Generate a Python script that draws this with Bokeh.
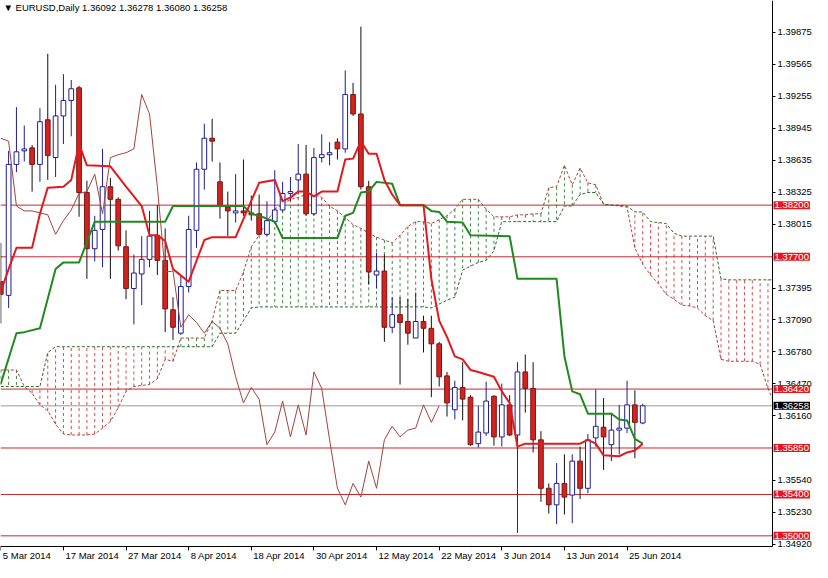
import pandas as pd
from bokeh.plotting import figure
from bokeh.models import FixedTicker, Label, Range1d, PrintfTickFormatter, ColumnDataSource
from bokeh.embed import file_html
from bokeh.resources import INLINE

# ---------------- data ----------------
first_day = "2014-03-05"
x_tick_labels = ["5 Mar 2014", "17 Mar 2014", "27 Mar 2014", "8 Apr 2014", "18 Apr 2014",
                 "30 Apr 2014", "12 May 2014", "22 May 2014", "3 Jun 2014", "13 Jun 2014", "25 Jun 2014"]

opens = [1.37459, 1.37327, 1.38594, 1.38725, 1.38754, 1.38594, 1.39026, 1.38660, 1.39063, 1.39213,
         1.39335, 1.38322, 1.37778, 1.37965, 1.38378, 1.38256, 1.37797, 1.37393, 1.37534, 1.37675,
         1.37909, 1.37665, 1.37187, 1.36961, 1.37412, 1.37956, 1.38547, 1.38847, 1.38425, 1.38181,
         1.38125, 1.38144, 1.38125, 1.38116, 1.37918, 1.38040, 1.38153, 1.38313, 1.38444, 1.38500,
         1.38116, 1.38660, 1.38688, 1.38810, 1.38744, 1.39270, 1.39082, 1.38378, 1.37524, 1.37562,
         1.37018, 1.37140, 1.37074, 1.36914, 1.37074, 1.37008, 1.36858, 1.36548, 1.36220, 1.36436,
         1.36342, 1.35892, 1.35995, 1.36351, 1.35957, 1.36267, 1.35976, 1.36586, 1.36426, 1.35929,
         1.35460, 1.35300, 1.35507, 1.35394, 1.35723, 1.35460, 1.35948, 1.36051, 1.35882, 1.36023,
         1.36042, 1.36267, 1.36092]
highs = [1.37834, 1.38725, 1.39148, 1.38970, 1.38782, 1.39138, 1.39664, 1.39364, 1.39467, 1.39411,
         1.39354, 1.38435, 1.38097, 1.38744, 1.38463, 1.38275, 1.37956, 1.37721, 1.37900, 1.38144,
         1.38200, 1.37975, 1.37309, 1.37524, 1.38097, 1.38613, 1.38988, 1.39035, 1.38613, 1.38331,
         1.38500, 1.38641, 1.38294, 1.38303, 1.38238, 1.38538, 1.38425, 1.38472, 1.38791, 1.38782,
         1.38754, 1.38885, 1.38810, 1.38847, 1.39504, 1.39382, 1.39927, 1.38435, 1.37740, 1.37721,
         1.37309, 1.37309, 1.37290, 1.37355, 1.37130, 1.37130, 1.36877, 1.36586, 1.36502, 1.36680,
         1.36361, 1.36258, 1.36492, 1.36361, 1.36473, 1.36361, 1.36680, 1.36755, 1.36680, 1.36013,
         1.35507, 1.35704, 1.35788, 1.35788, 1.35863, 1.35985, 1.36417, 1.36333, 1.36192, 1.36267,
         1.36502, 1.36408, 1.36278]
lows = [1.37055, 1.37205, 1.38519, 1.38622, 1.38331, 1.38425, 1.38444, 1.38472, 1.38791, 1.38866,
        1.38087, 1.37487, 1.37656, 1.37599, 1.37487, 1.37759, 1.37290, 1.37046, 1.37233, 1.37599,
        1.37524, 1.36971, 1.36896, 1.36943, 1.37355, 1.37787, 1.38350, 1.38622, 1.38069, 1.37900,
        1.38031, 1.38097, 1.38050, 1.37909, 1.37900, 1.38022, 1.38134, 1.38238, 1.38303, 1.38097,
        1.38097, 1.38613, 1.38585, 1.38641, 1.38707, 1.39063, 1.38350, 1.37431, 1.37393, 1.36877,
        1.36961, 1.36464, 1.36849, 1.36914, 1.36774, 1.36342, 1.36445, 1.36154, 1.36126, 1.36117,
        1.35873, 1.35854, 1.35967, 1.35873, 1.35863, 1.35967, 1.35028, 1.36192, 1.35807, 1.35329,
        1.35216, 1.35113, 1.35207, 1.35122, 1.35357, 1.35413, 1.35863, 1.35638, 1.35723, 1.35788,
        1.35995, 1.35751, 1.36080]
closes = [1.37337, 1.38594, 1.38716, 1.38744, 1.38594, 1.39007, 1.38679, 1.39063, 1.39213, 1.39326,
          1.38322, 1.37778, 1.37956, 1.38378, 1.38256, 1.37806, 1.37393, 1.37543, 1.37675, 1.37900,
          1.37665, 1.37196, 1.37018, 1.37412, 1.37965, 1.38547, 1.38847, 1.38819, 1.38191, 1.38144,
          1.38144, 1.38125, 1.38106, 1.37918, 1.38050, 1.38153, 1.38313, 1.38331, 1.38500, 1.38116,
          1.38660, 1.38688, 1.38707, 1.38744, 1.39270, 1.39082, 1.38378, 1.37553, 1.37562, 1.37018,
          1.37140, 1.37065, 1.36961, 1.37074, 1.37008, 1.36858, 1.36539, 1.36286, 1.36436, 1.36323,
          1.35882, 1.36004, 1.36304, 1.35957, 1.36267, 1.35976, 1.36586, 1.36426, 1.35929, 1.35460,
          1.35300, 1.35507, 1.35375, 1.35723, 1.35460, 1.35929, 1.36060, 1.35957, 1.36023, 1.36042,
          1.36267, 1.36098, 1.36258]

# Tenkan-sen (bar index, value) vertices
tenkan_bar = [0, 1, 2, 4, 5, 6, 8, 9, 10, 11, 14, 16, 18, 19, 20, 21, 22, 24, 26, 27, 30, 33, 35, 36, 37,
              38, 39, 40, 41, 43, 44, 45, 46, 47, 48, 49, 50, 51, 54, 55, 56, 57, 58, 59, 60, 61, 63,
              64, 65, 66, 67, 74, 75, 76, 77, 79, 80, 81, 82]
tenkan_val = [1.37365, 1.37581, 1.37787, 1.37787, 1.38116, 1.38369, 1.38378, 1.38444, 1.38791, 1.38585,
              1.38575, 1.38378, 1.38191, 1.37909, 1.37909, 1.37853, 1.37581, 1.37459, 1.37862, 1.37890,
              1.37890, 1.38416, 1.38444, 1.38238, 1.38275, 1.38331, 1.38331, 1.38284, 1.38331, 1.38331,
              1.38641, 1.38650, 1.38819, 1.38697, 1.38697, 1.38444, 1.38303, 1.38200, 1.38200, 1.37487,
              1.37083, 1.36924, 1.36736, 1.36708, 1.36605, 1.36586, 1.36539, 1.36398, 1.36286, 1.35863,
              1.35892, 1.35892, 1.35929, 1.35892, 1.35779, 1.35770, 1.35807, 1.35826, 1.35892]

# Kijun-sen (bar index, value) vertices
kijun_bar = [0, 2, 3, 5, 7, 8, 10, 12, 21, 22, 31, 32, 33, 35, 36, 43, 44, 45, 46, 47, 48, 50, 51, 54,
             55, 56, 57, 59, 60, 65, 66, 71, 72, 73, 74, 75, 78, 79, 80, 81, 82]
kijun_val = [1.36473, 1.36961, 1.36971, 1.37008, 1.37581, 1.37646, 1.37646, 1.38040, 1.38040, 1.38191,
             1.38191, 1.38116, 1.38097, 1.38040, 1.37881, 1.37881, 1.38097, 1.38125, 1.38322, 1.38331,
             1.38425, 1.38406, 1.38200, 1.38200, 1.38144, 1.38134, 1.38040, 1.38031, 1.37909, 1.37900,
             1.37487, 1.37487, 1.36736, 1.36398, 1.36370, 1.36182, 1.36182, 1.36126, 1.36117, 1.35938,
             1.35892]

# Senkou span A and B, one value per bar (already shifted forward), bars 0..99
span_a = [1.36605, 1.36605, 1.36605, 1.36445, 1.36380, 1.36267, 1.36211, 1.36079, 1.35985, 1.35976,
          1.35976, 1.35976, 1.35985, 1.36042, 1.36107, 1.36239, 1.36398, 1.36445, 1.36455, 1.36464,
          1.36520, 1.36708, 1.36689, 1.36914, 1.36914, 1.36914, 1.36914, 1.37083, 1.37374, 1.37374,
          1.37374, 1.37553, 1.37797, 1.37909, 1.38040, 1.38162, 1.38209, 1.38256, 1.38275, 1.38303,
          1.38303, 1.38275, 1.38191, 1.38144, 1.38078, 1.38012, 1.37975, 1.37928, 1.37890, 1.37862,
          1.37834, 1.37909, 1.37994, 1.38040, 1.38040, 1.38022, 1.38059, 1.38097, 1.38162, 1.38256,
          1.38256, 1.38256, 1.38162, 1.38087, 1.38087, 1.38087, 1.38106, 1.38106, 1.38116, 1.38116,
          1.38369, 1.38378, 1.38585, 1.38397, 1.38557, 1.38416, 1.38397, 1.38209, 1.38200, 1.38191,
          1.38181, 1.37787, 1.37628, 1.37524, 1.37440, 1.37337, 1.37290, 1.37233, 1.37224, 1.37205,
          1.37130, 1.37083, 1.36708, 1.36689, 1.36689, 1.36689, 1.36689, 1.36661, 1.36426, 1.36258]
span_b = [1.36445, 1.36445, 1.36445, 1.36445, 1.36445, 1.36445, 1.36774, 1.36830, 1.36830, 1.36830,
          1.36830, 1.36830, 1.36830, 1.36830, 1.36830, 1.36830, 1.36830, 1.36830, 1.36830, 1.36830,
          1.36830, 1.36830, 1.36830, 1.36830, 1.36830, 1.36830, 1.36830, 1.36830, 1.36961, 1.36961,
          1.36961, 1.37083, 1.37205, 1.37215, 1.37215, 1.37215, 1.37215, 1.37215, 1.37215, 1.37215,
          1.37215, 1.37215, 1.37215, 1.37215, 1.37215, 1.37215, 1.37215, 1.37215, 1.37215, 1.37215,
          1.37215, 1.37215, 1.37215, 1.37215, 1.37215, 1.37205, 1.37243, 1.37280, 1.37309, 1.37571,
          1.37609, 1.37646, 1.37665, 1.37759, 1.38040, 1.38040, 1.38040, 1.38040, 1.38040, 1.38040,
          1.38040, 1.38040, 1.38191, 1.38191, 1.38303, 1.38322, 1.38322, 1.38209, 1.38200, 1.38200,
          1.38191, 1.38134, 1.38134, 1.38040, 1.38031, 1.38022, 1.37928, 1.37900, 1.37900, 1.37900,
          1.37900, 1.37900, 1.37487, 1.37477, 1.37477, 1.37477, 1.37477, 1.37477, 1.37477, 1.37477]

chikou_shift = 26
level_lines = [1.38200, 1.37700, 1.36420, 1.35850, 1.35400, 1.35000]
last_price = 1.36258
y_ticks = [1.39875, 1.39565, 1.39255, 1.38945, 1.38635, 1.38325, 1.38015, 1.37395, 1.37090,
           1.36780, 1.36470, 1.36160, 1.35540, 1.35230, 1.34920]
header = "\u25BC EURUSD,Daily  1.36092 1.36278 1.36080 1.36258"

# ---------------- layout ----------------
FONT = "Liberation Sans"
W, H = 812, 562
days = pd.bdate_range(first_day, periods=len(closes))
bars = list(range(len(closes)))
tick_pos = [days.get_loc(pd.Timestamp(s)) for s in x_tick_labels]

x_start, x_end = -0.0375, 103.69       # bars across the whole canvas
axis_x = 98.59                          # price scale sits here
y_top, y_bottom = 1.40180, 1.34742      # prices across the whole canvas
axis_y = 1.34897                        # time scale sits here

p = figure(width=W, height=H, x_range=Range1d(x_start, x_end), y_range=Range1d(y_bottom, y_top),
           y_axis_location="right", output_backend="svg", toolbar_location=None,
           min_border=0, min_border_left=0, min_border_right=0, min_border_top=0, min_border_bottom=0)
p.outline_line_color = None
p.grid.visible = False
p.background_fill_color = "white"
p.border_fill_color = "white"

# cloud hatching
hx, hy0, hy1, hc = [], [], [], []
for k in range(len(span_a)):
    if abs(span_a[k] - span_b[k]) < 1e-5:
        continue
    hx.append(k)
    hy0.append(span_a[k])
    hy1.append(span_b[k])
    hc.append("#3C8A3C" if span_a[k] > span_b[k] else "#D24B4B")
p.segment(x0=hx, y0=hy0, x1=hx, y1=hy1, line_color=hc, line_width=1, line_dash="3 3")
ks = list(range(len(span_a)))
p.line(ks, span_a, line_color="#B0443E", line_width=1, line_dash="3 2")
p.line(ks, span_b, line_color="#2E6B2E", line_width=1, line_dash="3 2")

# horizontal levels
p.segment(x0=[x_start] * len(level_lines), y0=level_lines, x1=[axis_x] * len(level_lines),
          y1=level_lines, line_color="#C8282D", line_width=1)
p.segment(x0=[x_start], y0=[last_price], x1=[axis_x], y1=[last_price],
          line_color="#9A9A9A", line_width=1)

# candles
up = [c >= o for o, c in zip(opens, closes)]
src = ColumnDataSource(dict(
    x=bars, o=opens, h=highs, l=lows, c=closes,
    top=[max(o, c) for o, c in zip(opens, closes)],
    bot=[min(o, c) for o, c in zip(opens, closes)],
    wick=["#1E1E96" if u else "#111111" for u in up],
    fill=["white" if u else "#D2231E" for u in up],
    edge=["#1E1E96" if u else "#7A1616" for u in up],
))
p.segment(x0="x", y0="l", x1="x", y1="h", line_color="wick", line_width=1, source=src)
p.vbar(x="x", top="top", bottom="bot", width=0.6, fill_color="fill", line_color="edge",
       line_width=1, source=src)

# chikou span
p.line([k - chikou_shift for k in bars[chikou_shift:]], closes[chikou_shift:],
       line_color="#A2443C", line_width=1)
# kijun / tenkan
p.line(kijun_bar, kijun_val, line_color="#1F8A1F", line_width=2, line_join="round")
p.line(tenkan_bar, tenkan_val, line_color="#E2191E", line_width=2, line_join="round")

# white margins for the scales
p.quad(left=[axis_x], right=[x_end], top=[y_top], bottom=[y_bottom],
       fill_color="white", line_color=None)
p.quad(left=[x_start], right=[x_end], top=[axis_y], bottom=[y_bottom],
       fill_color="white", line_color=None)

# axes (placed at fixed positions inside the canvas)
p.yaxis.fixed_location = axis_x
p.yaxis.bounds = (axis_y, y_top)
p.yaxis.ticker = FixedTicker(ticks=y_ticks)
p.yaxis.formatter = PrintfTickFormatter(format="%.5f")
p.yaxis.major_tick_in = 0
p.yaxis.major_tick_out = 3
p.yaxis.minor_tick_line_color = None
p.yaxis.major_label_standoff = 2
p.yaxis.major_label_text_font = FONT
p.yaxis.major_label_text_font_size = "9.5px"
p.yaxis.major_label_text_color = "black"
p.yaxis.axis_line_color = "black"

p.xaxis.fixed_location = axis_y
p.xaxis.bounds = (x_start, axis_x)
p.xaxis.ticker = FixedTicker(ticks=tick_pos)
p.xaxis.major_label_overrides = {t: "" for t in tick_pos}
p.xaxis.major_tick_in = 0
p.xaxis.major_tick_out = 4
p.xaxis.minor_tick_line_color = None
p.xaxis.axis_line_color = "black"
p.xaxis.major_label_standoff = 0

# price labels on the scale
for lv in level_lines:
    p.add_layout(Label(x=axis_x, y=lv, x_offset=1, text="%.5f" % lv, text_font=FONT,
                       text_font_size="9.5px", text_color="white", text_align="left",
                       text_baseline="middle", background_fill_color="#E3181C", padding=1))
p.add_layout(Label(x=axis_x, y=last_price, x_offset=1, text="%.5f" % last_price, text_font=FONT,
                   text_font_size="9.5px", text_color="white", text_align="left",
                   text_baseline="middle", background_fill_color="black", padding=1))

# date labels, left aligned after their tick
for pos, s in zip(tick_pos, x_tick_labels):
    p.add_layout(Label(x=pos, y=axis_y, x_offset=2, y_offset=-4, text=s, text_font=FONT,
                       text_font_size="9.5px", text_color="black", text_align="left",
                       text_baseline="top"))

# header
p.add_layout(Label(x=x_start, y=y_top, x_offset=3, y_offset=-1, text=header, text_font=FONT,
                   text_font_size="9.5px", text_color="black", text_align="left",
                   text_baseline="top"))

open("out.html", "w").write(file_html(p, INLINE))
